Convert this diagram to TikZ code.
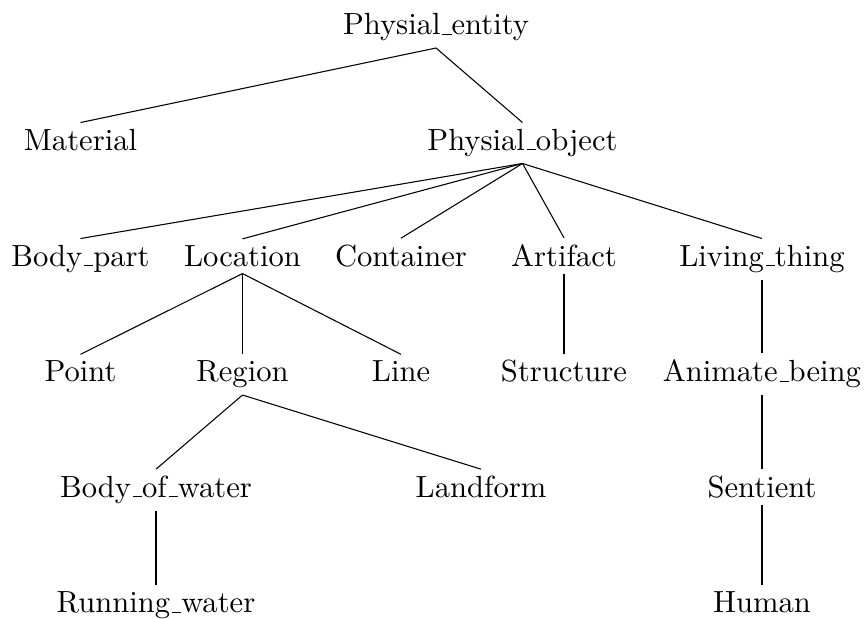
\documentclass[tikz,border=0pt]{standalone}
% low rule underscore, as in the classic text fonts
\newcommand{\us}{\leavevmode\kern.06em\vbox{\hrule width.3em}}
\begin{document}
\begin{tikzpicture}[x=0.3268pt,y=-0.3268pt,
  lbl/.style={anchor=base, inner sep=2pt},
  branch/.style={line width=0.35pt}]
\useasboundingbox (0,0) rectangle (864,619);

% level 0
\node[lbl] (pe) at (436,35) {Physial\us entity};
% level 1
\node[lbl] (mat) at (80.5,150.5) {Material};
\node[lbl] (po)  at (522.5,150.5) {Physial\us object};
% level 2
\node[lbl] (bp)  at (80.5,266.5) {Body\us part};
\node[lbl] (loc) at (242.5,266.5) {Location};
\node[lbl] (con) at (401,266.5) {Container};
\node[lbl] (art) at (564,266.5) {Artifact};
\node[lbl] (lt)  at (762,266.5) {Living\us thing};
% level 3
\node[lbl] (pt)  at (80.5,382) {Point};
\node[lbl] (reg) at (242.5,382) {Region};
\node[lbl] (lin) at (401,382) {Line};
\node[lbl] (str) at (564,382) {Structure};
\node[lbl] (ab)  at (762,382) {Animate\us being};
% level 4
\node[lbl] (bw)  at (156,497.5) {Body\us of\us water};
\node[lbl] (lf)  at (481,497.5) {Landform};
\node[lbl] (sen) at (762,497.5) {Sentient};
% level 5
\node[lbl] (rw)  at (156,613) {Running\us water};
\node[lbl] (hum) at (762,613) {Human};

% branches
\draw[branch] (pe.south) -- (mat.north);
\draw[branch] (pe.south) -- (po.north);
\foreach \c in {bp,loc,con,art,lt}
  \draw[branch] (po.south) -- (\c.north);
\foreach \c in {pt,reg,lin}
  \draw[branch] (loc.south) -- (\c.north);
\draw[branch] (art.south) -- (str.north);
\draw[branch] (lt.south) -- (ab.north);
\draw[branch] (reg.south) -- (bw.north);
\draw[branch] (reg.south) -- (lf.north);
\draw[branch] (ab.south) -- (sen.north);
\draw[branch] (bw.south) -- (rw.north);
\draw[branch] (sen.south) -- (hum.north);
\end{tikzpicture}
\end{document}
